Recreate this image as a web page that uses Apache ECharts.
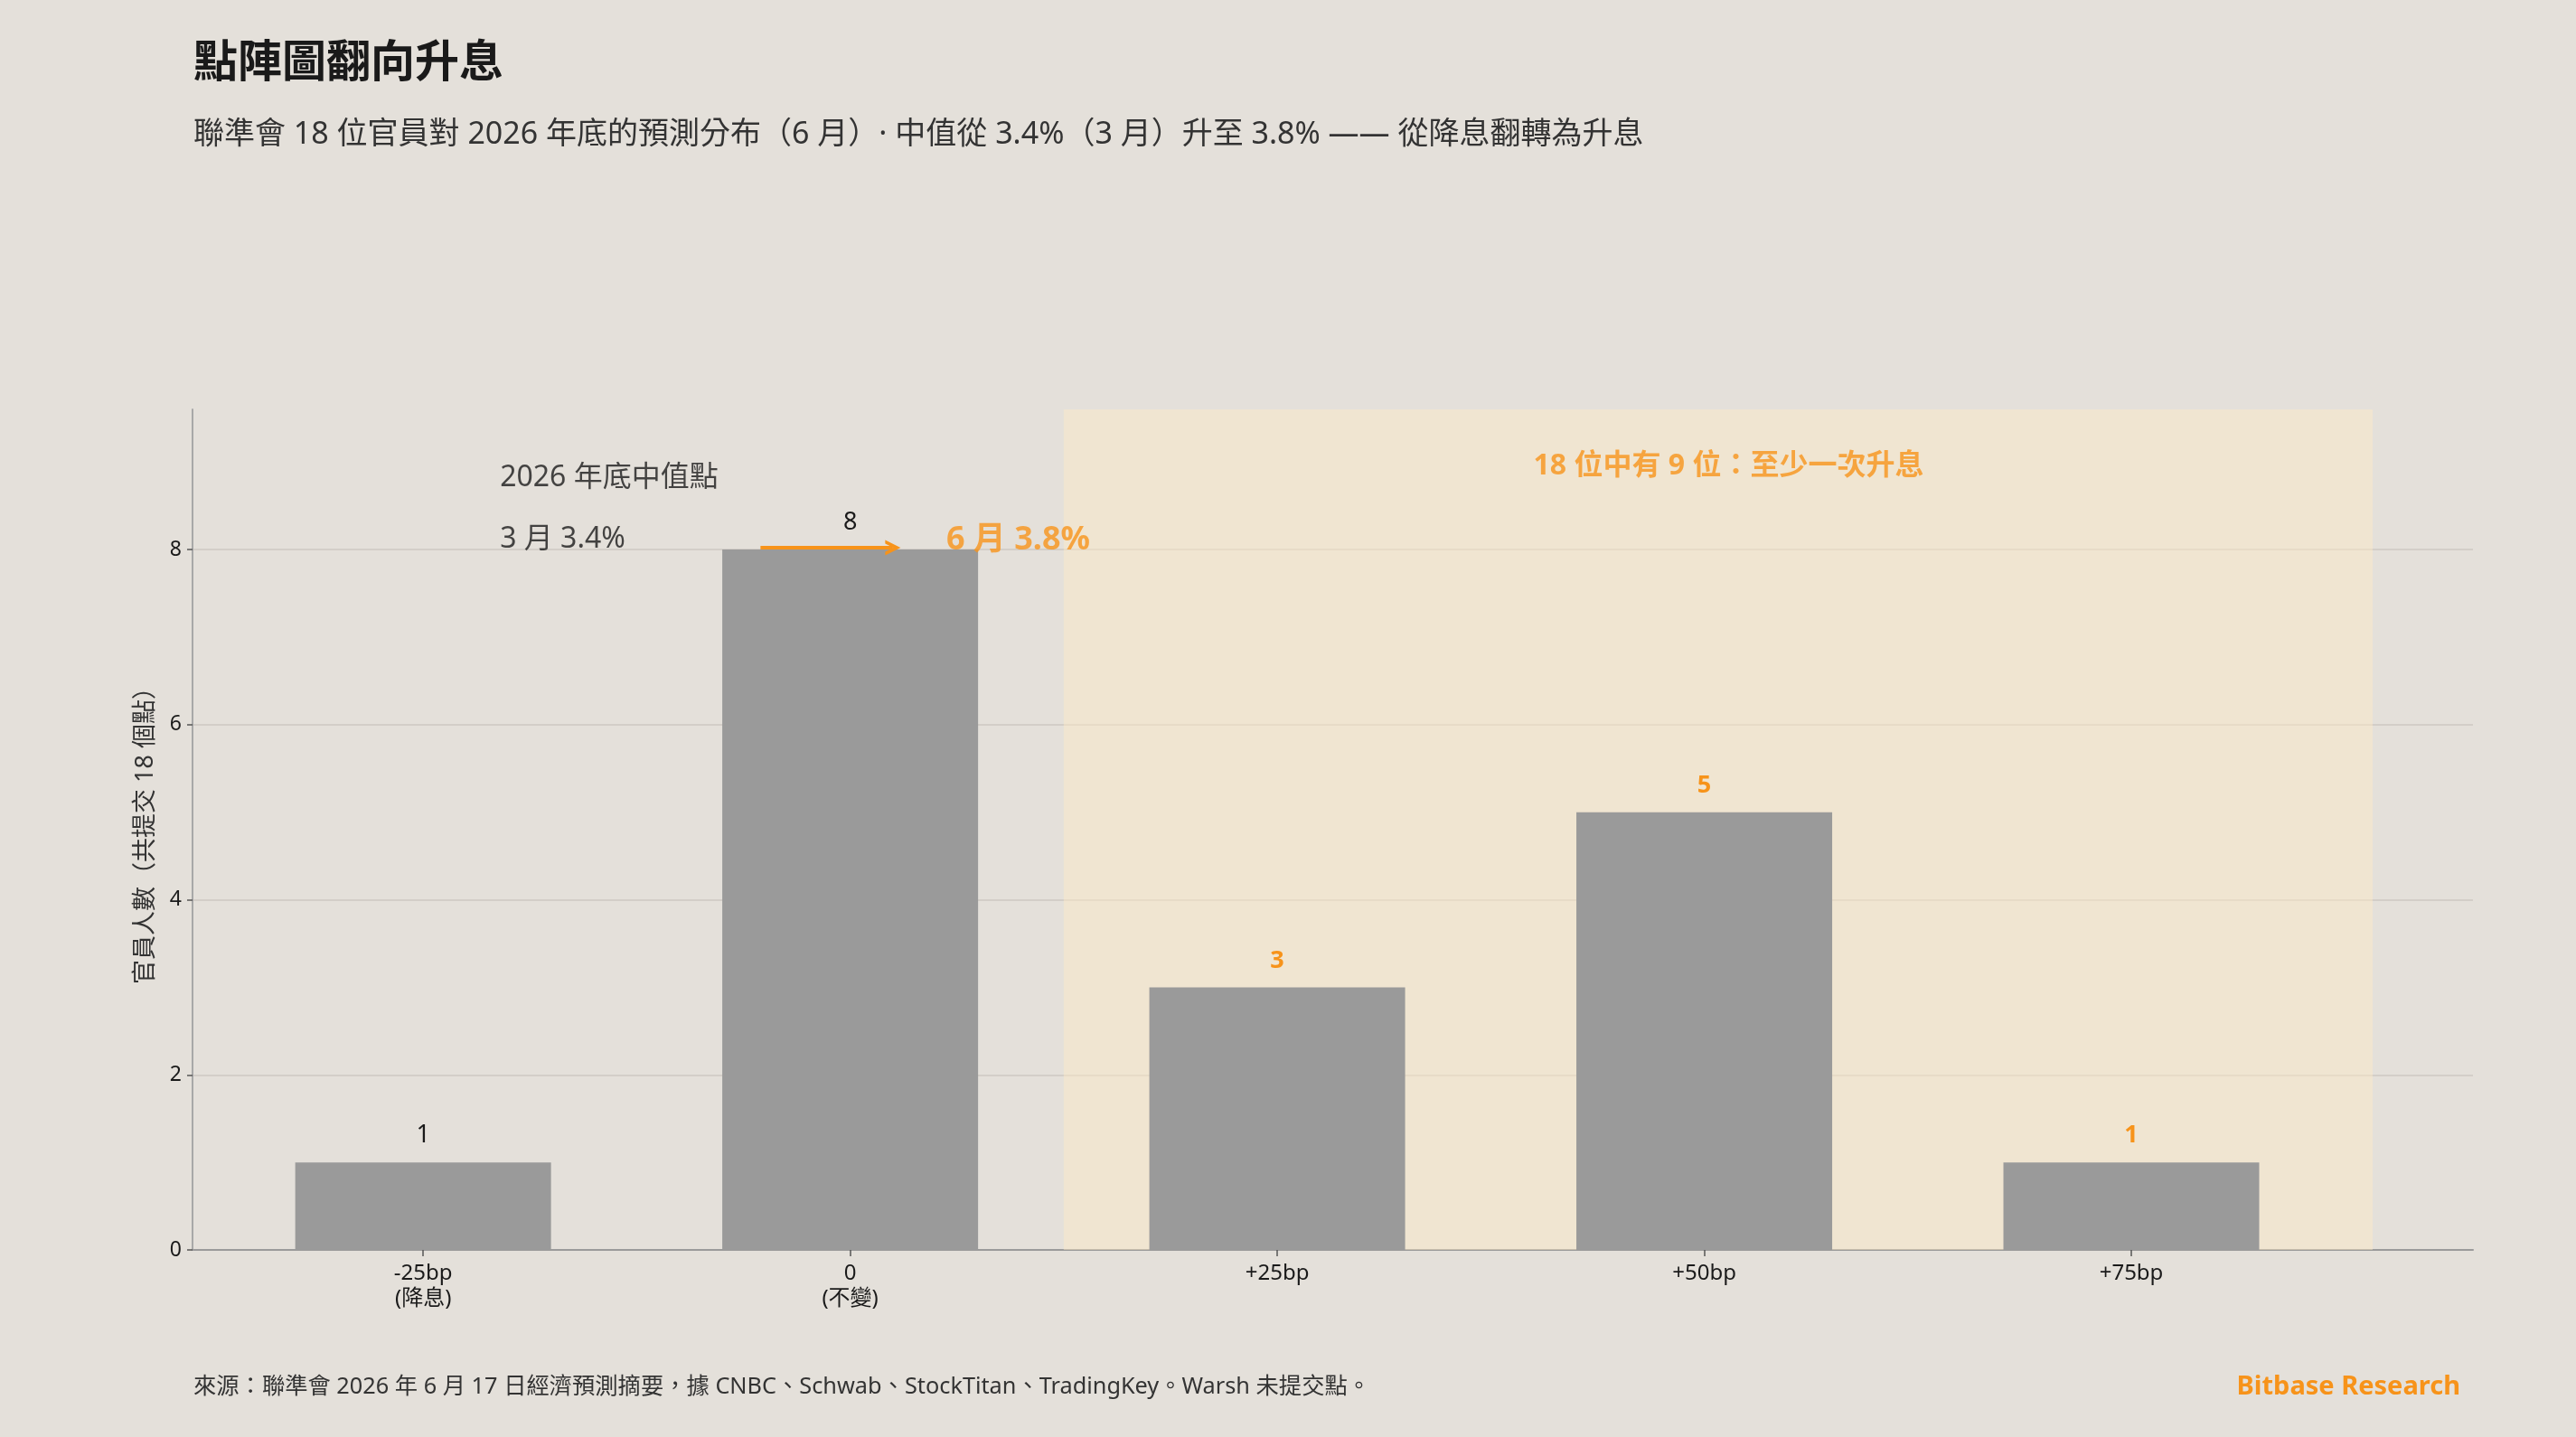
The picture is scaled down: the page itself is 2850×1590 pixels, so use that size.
<!DOCTYPE html>
<html><head><meta charset="utf-8">
<script src="https://cdn.jsdelivr.net/npm/echarts@6/dist/echarts.min.js"></script>
<style>html,body{margin:0;padding:0;background:#e4e0da;}#c{width:2850px;height:1590px;}</style>
</head><body><div id="c"></div>
<script>
// ---- data ----
const categories = ['-25bp\n(降息)', '0\n(不變)', '+25bp', '+50bp', '+75bp'];
const moveBp = [-25, 0, 25, 50, 75];
const officials = [1, 8, 3, 5, 1];
const yTicks = [0, 2, 4, 6, 8];
const titleText = '點陣圖翻向升息';
const subtitleText = '聯準會 18 位官員對 2026 年底的預測分布（6 月）· 中值從 3.4%（3 月）升至 3.8% —— 從降息翻轉為升息';
const noteTitle = '2026 年底中值點';
const noteMarch = '3 月 3.4%';
const noteJune = '6 月 3.8%';
const hikeNote = '18 位中有 9 位：至少一次升息';
const yName = '官員人數（共提交 18 個點）';
const sourceText = '來源：聯準會 2026 年 6 月 17 日經濟預測摘要，據 CNBC、Schwab、StockTitan、TradingKey。Warsh 未提交點。';
const brandText = 'Bitbase Research';

const ORANGE = '#f7931a';
const FONT = '"Noto Sans", "Noto Sans CJK TC", sans-serif';
const chart = echarts.init(document.getElementById('c'), null, {renderer: 'canvas'});

const barData = officials.map((v, i) => ({
  value: [i, v],
  label: moveBp[i] > 0
    ? {color: ORANGE, fontWeight: 'bold'}
    : {color: '#1a1a1a', fontWeight: 'normal'}
}));

const option = {
  backgroundColor: '#e4e0da',
  textStyle: {fontFamily: FONT},
  title: [
    {text: titleText, left: 214, top: 47, padding: 0, textStyle: {fontFamily: FONT, fontSize: 49, fontWeight: 'bold', color: '#1a1a1a'}},
    {text: subtitleText, left: 214, top: 132, padding: 0, textStyle: {fontFamily: FONT, fontSize: 34, fontWeight: 'normal', color: '#333333'}},
    {text: sourceText, left: 214, top: 1522, padding: 0, textStyle: {fontFamily: FONT, fontSize: 25.3, fontWeight: 'normal', color: '#333333'}},
    {text: brandText, right: 128, top: 1520, padding: 0, textStyle: {fontFamily: FONT, fontSize: 29, fontWeight: 'bold', color: ORANGE}}
  ],
  grid: {left: 213, right: 114, top: 453, bottom: 207, containLabel: false},
  xAxis: {
    type: 'value', min: -0.54, max: 4.8,
    splitLine: {show: false},
    axisLine: {show: true, onZero: false, lineStyle: {color: '#9a9a9a', width: 2}},
    axisTick: {show: true, customValues: [0, 1, 2, 3, 4], length: 7, lineStyle: {color: '#555', width: 1.5}},
    axisLabel: {
      customValues: [0, 1, 2, 3, 4], margin: 12,
      formatter: v => categories[Math.round(v)],
      fontFamily: FONT, fontSize: 24, color: '#1a1a1a', lineHeight: 28
    }
  },
  yAxis: {
    type: 'value', min: 0, max: 9.6, interval: 2,
    name: yName, nameLocation: 'middle', nameGap: 38, nameRotate: 90,
    nameTextStyle: {fontFamily: FONT, fontSize: 27, color: '#333333'},
    axisLine: {show: true, onZero: false, lineStyle: {color: '#a8a8a8', width: 2}},
    axisTick: {show: true, customValues: yTicks, length: 6, lineStyle: {color: '#555', width: 1.5}},
    axisLabel: {
      customValues: yTicks, margin: 12,
      fontFamily: FONT, fontSize: 23, color: '#1a1a1a'
    },
    splitLine: {show: true, showMaxLine: true, showMinLine: false, lineStyle: {color: '#d3cec8', width: 2}}
  },
  series: [
    {
      type: 'bar', data: barData, barWidth: 283,
      itemStyle: {color: '#9a9a9a'},
      label: {show: true, position: 'top', distance: 16, fontFamily: FONT, fontSize: 27,
        formatter: p => String(p.value[1])},
      markArea: {
        silent: true,
        itemStyle: {color: 'rgba(255,236,198,0.45)'},
        label: {show: false},
        data: [[{xAxis: 1.5}, {xAxis: 4.565}]]
      },
      markLine: {
        silent: true,
        symbol: ['none', 'path://M0,17 L8.5,0 L17,17 L13,17 L8.5,8 L4,17 Z'],
        symbolSize: [17, 17],
        lineStyle: {color: ORANGE, width: 4, type: 'solid'},
        itemStyle: {color: ORANGE},
        label: {show: false},
        data: [[{coord: [0.79, 8.02]}, {coord: [1.10, 8.02]}]]
      },
      z: 3
    },
    {
      type: 'scatter', symbolSize: 0, silent: true, z: 5,
      data: [
        {value: [0.18, 8.82], label: {formatter: noteTitle, color: '#1a1a1a', fontWeight: 'normal', fontSize: 32}},
        {value: [0.18, 8.11], label: {formatter: noteMarch, color: '#1a1a1a', fontWeight: 'normal', fontSize: 32}},
        {value: [1.225, 8.11], label: {formatter: noteJune, color: ORANGE, fontWeight: 'bold', fontSize: 36}}
      ],
      label: {show: true, position: 'right', distance: 0, fontFamily: FONT}
    },
    {
      type: 'scatter', symbolSize: 0, silent: true, z: 5,
      data: [
        {value: [3.057, 8.95], label: {formatter: hikeNote}}
      ],
      label: {show: true, position: 'inside', fontFamily: FONT, fontSize: 32, fontWeight: 'bold', color: ORANGE}
    }
  ]
};
chart.setOption(option);
</script>
</body></html>
